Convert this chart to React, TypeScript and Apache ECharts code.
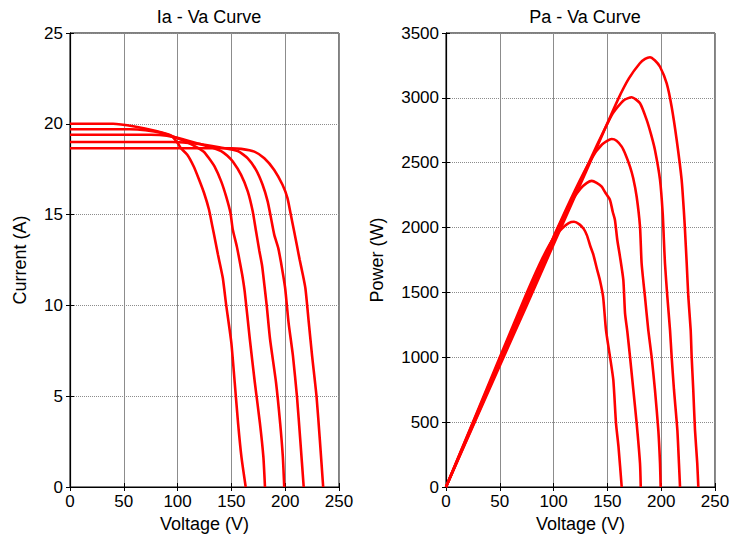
import React, { useEffect, useRef } from "react";
import * as echarts from "echarts";

// Ia - Va curves: [voltage (V), current (A)]
const ivA = [[0,20.0],[40,20.0],[60,19.85],[80,19.6],[94,19.35],[100,18.95],[103,18.66],[109,18.3],[115,17.65],[120,16.92],[124.6,16.19],[129.2,15.27],[132.3,14.36],[135.4,13.44],[137.5,12.8],[140,12.1],[142.1,11.48],[145.2,10.0],[149.9,7.96],[153.1,5.74],[156.2,3.52],[159.3,1.67],[163.3,0]];
const ivB = [[0,19.7],[55,19.7],[70,19.65],[85,19.5],[100,19.2],[110,18.95],[118,18.7],[124.6,18.45],[129.2,18.1],[134.3,17.65],[140.5,16.83],[145.1,16.0],[149.1,15.1],[151.3,14.17],[155,13.26],[157.5,12.5],[160,11.7],[162.4,10.74],[167.1,8.15],[171.8,5.74],[176.5,3.52],[179.7,1.67],[181.2,0]];
const ivC = [[0,19.4],[75,19.4],[90,19.35],[105,19.15],[120,18.9],[132,18.7],[140.5,18.5],[146,18.25],[151.3,17.92],[159,17.19],[165.2,16.28],[169.8,15.18],[172.9,14.08],[176,13.0],[178.5,12.2],[180.5,11.2],[182.8,10.0],[185.9,8.15],[191.5,5.74],[195.3,3.52],[197.8,1.67],[199.1,0]];
const ivD = [[0,19.0],[95,19.0],[110,18.95],[125,18.85],[140,18.7],[155.9,18.5],[165.2,18.1],[172.9,17.46],[179,16.64],[183.7,15.73],[186.8,14.81],[189.8,13.9],[193.5,13.17],[196,12.4],[198,11.7],[200,10.93],[203.1,9.07],[207.2,7.22],[210.9,5.0],[214,2.6],[217.2,0]];
const ivE = [[0,18.65],[150,18.65],[159,18.62],[171.3,18.47],[180.6,18.1],[189.8,17.46],[197.5,16.64],[202.1,15.91],[205.2,15.0],[208.3,14.08],[211.3,13.17],[213.5,12.5],[216,11.8],[218.8,10.93],[221.9,9.07],[225,7.22],[229.1,5.0],[232.2,2.6],[235.3,0]];

// Pa - Va curves: [voltage (V), power (W)]
const pvA = [[0,0],[25,500],[50,1000],[75,1495],[90,1770],[100,1920],[108,1995],[114,2035],[119,2045],[124,2025],[128,1990],[131,1940],[134,1860],[137,1790],[140,1690],[143,1596],[146,1467],[148.7,1210],[152.4,1005],[155.5,825],[158,491],[160.3,311],[163.3,0]];
const pvB = [[0,0],[25,493],[50,985],[75,1470],[100,1925],[115,2180],[125,2300],[131,2345],[135.4,2360],[140,2345],[144.7,2315],[148,2270],[152.4,2213],[155,2120],[157,2059],[159.2,1904],[161.7,1776],[164.8,1596],[166.4,1339],[168.5,1200],[171,1005],[174.1,748],[177.2,491],[180.3,183],[181,0]];
const pvC = [[0,0],[25,485],[50,970],[75,1455],[100,1930],[120,2290],[135,2530],[145,2640],[154,2683],[158.5,2670],[163.3,2624],[167,2560],[171,2470],[174,2380],[177.2,2238],[180.3,2007],[181.8,1725],[184.9,1467],[188,1210],[191.1,1005],[194.2,748],[197.3,440],[198.9,183],[199.5,0]];
const pvD = [[0,0],[25,475],[50,950],[75,1425],[100,1900],[120,2270],[140,2630],[155,2880],[165,2980],[172.6,3005],[180.3,2958],[186.5,2830],[190.5,2720],[194.2,2598],[198.9,2367],[201.4,2110],[202.5,1904],[203.5,1725],[205.7,1467],[208.2,1210],[209.7,1005],[211.9,748],[215,440],[216.5,183],[217.5,0]];
const pvE = [[0,0],[25,468],[50,935],[75,1400],[100,1870],[120,2244],[140,2615],[160,2990],[170,3150],[180,3265],[185,3300],[189.6,3313],[194,3290],[198.9,3240],[205.1,3112],[209.7,2932],[214.4,2675],[219,2367],[221.2,2110],[222.1,1981],[223.7,1725],[225.2,1467],[227.4,1210],[228.3,1005],[229.8,748],[231.4,440],[233.5,183],[234.5,0]];

const ivCurves = [ivA, ivB, ivC, ivD, ivE];
const pvCurves = [pvA, pvB, pvC, pvD, pvE];

const titles = ["Ia - Va Curve", "Pa - Va Curve"];
const xName = "Voltage (V)";
const yNames = ["Current (A)", "Power (W)"];
const xRange = { min: 0, max: 250, interval: 50 };
const yRanges = [
  { min: 0, max: 25, interval: 5 },
  { min: 0, max: 3500, interval: 500 },
];

const FONT = "Liberation Sans, Arial, sans-serif";

export default function App() {
  const ref = useRef<HTMLDivElement>(null);
  useEffect(() => {
    if (!ref.current) return;
    const chart = echarts.init(ref.current, null, { renderer: "svg" });
    const grids = [
      { left: 70, top: 33, width: 269, height: 454 },
      { left: 446, top: 33, width: 269, height: 454 },
    ].map((g) => ({ ...g, show: true, borderColor: "#000", borderWidth: 1, backgroundColor: "#fff" }));

    const xAxes: any[] = [];
    const yAxes: any[] = [];
    [0, 1].forEach((gi) => {
      xAxes.push({
        type: "value", gridIndex: gi, position: "bottom", ...xRange,
        name: xName, nameLocation: "middle", nameGap: 28,
        nameTextStyle: { fontFamily: FONT, fontSize: 18, color: "#000" },
        axisLine: { show: true, lineStyle: { color: "#000", width: 1.2 } },
        axisTick: { show: true, inside: true, length: 4, lineStyle: { color: "#000" } },
        axisLabel: { fontFamily: FONT, fontSize: 17, color: "#000", margin: 6, formatter: (v: number) => String(v) },
        splitLine: { show: true, lineStyle: { color: "#8c8c8c", width: 1, type: "solid" } },
      });
      xAxes.push({
        type: "value", gridIndex: gi, position: "top", ...xRange,
        axisLine: { show: true, lineStyle: { color: "#000", width: 1 } },
        axisTick: { show: true, inside: true, length: 4, lineStyle: { color: "#000" } },
        axisLabel: { show: false },
        splitLine: { show: false },
      });
      yAxes.push({
        type: "value", gridIndex: gi, position: "left", ...yRanges[gi],
        name: yNames[gi], nameLocation: "middle", nameGap: gi === 0 ? 41 : 60,
        nameTextStyle: { fontFamily: FONT, fontSize: 18, color: "#000" },
        axisLine: { show: true, lineStyle: { color: "#000", width: 1.2 } },
        axisTick: { show: true, inside: true, length: 4, lineStyle: { color: "#000" } },
        axisLabel: { fontFamily: FONT, fontSize: 17, color: "#000", margin: 7, formatter: (v: number) => String(v) },
        splitLine: { show: true, lineStyle: { color: "#8c8c8c", width: 1, type: [1, 1] } },
      });
      yAxes.push({
        type: "value", gridIndex: gi, position: "right", ...yRanges[gi],
        axisLine: { show: true, lineStyle: { color: "#000", width: 1 } },
        axisTick: { show: true, inside: true, length: 4, lineStyle: { color: "#000" } },
        axisLabel: { show: false },
        splitLine: { show: false },
      });
    });

    const mk = (data: number[][], gi: number) => ({
      type: "line",
      xAxisIndex: gi * 2,
      yAxisIndex: gi * 2,
      data,
      showSymbol: false,
      smooth: 0.2,
      lineStyle: { color: "#ff0000", width: 2.6 },
      z: 3,
    });

    chart.setOption({
      animation: false,
      backgroundColor: "#fff",
      title: titles.map((t, i) => ({
        text: t,
        left: i === 0 ? 204 : 580,
        top: 3,
        textAlign: "center",
        textStyle: { fontFamily: FONT, fontSize: 18, fontWeight: "normal", color: "#000" },
      })),
      grid: grids,
      xAxis: xAxes,
      yAxis: yAxes,
      series: [
        ...ivCurves.map((c) => mk(c, 0)),
        ...pvCurves.map((c) => mk(c, 1)),
      ],
    });
    return () => chart.dispose();
  }, []);
  return (
    <div
      ref={ref}
      style={{ position: "absolute", left: 0, top: 0, width: 734, height: 539 }}
    />
  );
}
